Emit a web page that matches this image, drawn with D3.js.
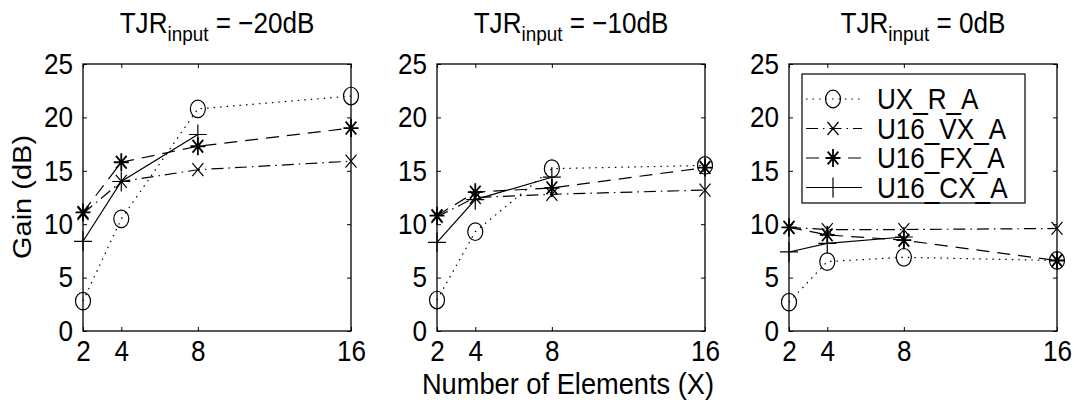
<!DOCTYPE html>
<html>
<head>
<meta charset="utf-8">
<script src="https://cdn.jsdelivr.net/npm/d3@7"></script>
<style>
  body { margin: 0; background: #fff; }
  text { font-family: "Liberation Sans", Arial, Helvetica, sans-serif; fill: #000; }
</style>
</head>
<body>
<div id="chart"></div>
<script>
// data
var elements = [2, 4, 8, 16];
var panelTitles = ["\u221220dB", "\u221210dB", "0dB"];
var seriesNames = ["UX_R_A", "U16_VX_A", "U16_FX_A", "U16_CX_A"];
var yTicks = [0, 5, 10, 15, 20, 25];

var uxR_m20 = [2.8, 10.5, 20.8, 22.0];
var vx_m20  = [11.0, 14.0, 15.1, 15.9];
var fx_m20  = [11.1, 15.8, 17.3, 19.0];
var cx_m20  = [8.4, 14.0, 18.4];

var uxR_m10 = [2.9, 9.3, 15.2, 15.5];
var vx_m10  = [10.7, 12.5, 12.8, 13.2];
var fx_m10  = [10.8, 13.0, 13.4, 15.3];
var cx_m10  = [8.3, 12.3, 14.4];

var uxR_0 = [2.7, 6.5, 6.9, 6.6];
var vx_0  = [9.7, 9.5, 9.5, 9.6];
var fx_0  = [9.7, 9.0, 8.5, 6.6];
var cx_0  = [7.4, 8.2, 8.8];

var panelData = [
  [uxR_m20, vx_m20, fx_m20, cx_m20],
  [uxR_m10, vx_m10, fx_m10, cx_m10],
  [uxR_0, vx_0, fx_0, cx_0]
];

var W = 1074, H = 403;
var panelLeft = [83, 437, 789];
var panelW = 268;
var top_ = 64, bottom_ = 331;
var fs = 29;      // font size
var sx = 0.9;     // the scan is squeezed a little horizontally

// line style + marker per series
var styles = [
  { dash: "1.5,5", marker: "circle" },
  { dash: "12,5,1.5,5", marker: "x" },
  { dash: "13,8", marker: "asterisk" },
  { dash: null, marker: "plus" }
];

function markerPath(type) {
  var p = d3.path();
  if (type == "x") {
    var a = 5.5, b = 6.5;
    p.moveTo(-a, -b); p.lineTo(a, b); p.moveTo(-a, b); p.lineTo(a, -b);
  } else if (type == "asterisk") {
    var a = 7.5, b = 9, c = 5.3, d = 6.4;
    p.moveTo(-a, 0); p.lineTo(a, 0); p.moveTo(0, -b); p.lineTo(0, b);
    p.moveTo(-c, -d); p.lineTo(c, d); p.moveTo(-c, d); p.lineTo(c, -d);
  } else {
    var a = 9, b = 10;
    p.moveTo(-a, 0); p.lineTo(a, 0); p.moveTo(0, -b); p.lineTo(0, b);
  }
  return p.toString();
}

function drawMarker(sel, type) {
  if (type == "circle") {
    sel.append("ellipse").attr("rx", 7.5).attr("ry", 8.8)
      .attr("fill", "none").attr("stroke", "#000").attr("stroke-width", 1.2);
  } else {
    sel.append("path").attr("d", markerPath(type))
      .attr("fill", "none").attr("stroke", "#000").attr("stroke-width", type == "asterisk" ? 1.8 : 1.2);
  }
}

var svg = d3.select("#chart").append("svg")
  .attr("width", W).attr("height", H);

var y = d3.scaleLinear().domain([0, 25]).range([bottom_, top_]);

panelData.forEach(function(series, pi) {
  var x = d3.scaleLinear().domain([2, 16]).range([panelLeft[pi], panelLeft[pi] + panelW]);
  var g = svg.append("g");

  // box
  g.append("rect")
    .attr("x", x(2)).attr("y", y(25))
    .attr("width", x(16) - x(2)).attr("height", y(0) - y(25))
    .attr("fill", "none").attr("stroke", "#000").attr("stroke-width", 1.3);

  // inner ticks on all four sides
  var tl = 4;
  g.append("g").attr("transform", "translate(0," + y(0) + ")")
    .call(d3.axisBottom(x).tickValues(elements).tickSizeInner(-tl).tickSizeOuter(0).tickPadding(9).tickFormat(d3.format("d")))
    .call(function(s) {
      s.select(".domain").remove();
      s.selectAll("text").attr("font-size", fs).attr("dy", "0.71em").attr("transform", "scale(" + sx + ",1)");
    });
  g.append("g").attr("transform", "translate(0," + y(25) + ")")
    .call(d3.axisTop(x).tickValues(elements).tickSizeInner(-tl).tickSizeOuter(0).tickFormat(""))
    .call(function(s) { s.select(".domain").remove(); });
  g.append("g").attr("transform", "translate(" + x(2) + ",0)")
    .call(d3.axisLeft(y).tickValues(yTicks).tickSizeInner(-tl).tickSizeOuter(0).tickPadding(10 / sx))
    .call(function(s) {
      s.select(".domain").remove();
      s.selectAll("text").attr("font-size", fs).attr("transform", "scale(" + sx + ",1)");
    });
  g.append("g").attr("transform", "translate(" + x(16) + ",0)")
    .call(d3.axisRight(y).tickValues(yTicks).tickSizeInner(-tl).tickSizeOuter(0).tickFormat(""))
    .call(function(s) { s.select(".domain").remove(); });
  g.selectAll(".tick line").attr("stroke", "#000");

  // series lines and markers
  series.forEach(function(vals, si) {
    var pts = vals.map(function(v, i) { return [elements[i], v]; });
    g.append("path")
      .datum(pts)
      .attr("d", d3.line().x(function(d) { return x(d[0]); }).y(function(d) { return y(d[1]); }))
      .attr("fill", "none").attr("stroke", "#000").attr("stroke-width", 1.2)
      .attr("stroke-dasharray", styles[si].dash);
    g.selectAll(".m" + si).data(pts).enter().append("g")
      .attr("class", "m" + si)
      .attr("transform", function(d) { return "translate(" + x(d[0]) + "," + y(d[1]) + ")"; })
      .each(function() { drawMarker(d3.select(this), styles[si].marker); });
  });

  // title
  var t = g.append("text")
    .attr("transform", "translate(" + (x(2) + x(16)) / 2 + ",33) scale(" + sx + ",1)")
    .attr("text-anchor", "middle").attr("font-size", fs);
  t.append("tspan").text("TJR");
  t.append("tspan").attr("font-size", 21).attr("dy", 8).text("input");
  t.append("tspan").attr("dy", -8).text(" = " + panelTitles[pi]);
});

// legend in the last panel
var lg = svg.append("g").attr("transform", "translate(802,74)");
lg.append("rect").attr("width", 223).attr("height", 129)
  .attr("fill", "#fff").attr("stroke", "#000").attr("stroke-width", 1.2);
seriesNames.forEach(function(name, i) {
  var ry = 25 + i * 29.5;
  lg.append("line").attr("x1", 4).attr("x2", 60).attr("y1", ry).attr("y2", ry)
    .attr("stroke", "#000").attr("stroke-width", 1.2).attr("stroke-dasharray", styles[i].dash);
  drawMarker(lg.append("g").attr("transform", "translate(31," + ry + ")"), styles[i].marker);
  lg.append("text").attr("transform", "translate(75," + ry + ") scale(0.9,1)").attr("dy", "0.36em")
    .attr("font-size", fs).text(name);
});

// axis labels
svg.append("text")
  .attr("transform", "translate(31,197) scale(" + sx + ",1) rotate(-90)")
  .attr("text-anchor", "middle").attr("font-size", fs).text("Gain (dB)");
svg.append("text")
  .attr("transform", "translate(568,394) scale(0.94,1)")
  .attr("text-anchor", "middle").attr("font-size", fs).text("Number of Elements (X)");
</script>
</body>
</html>
